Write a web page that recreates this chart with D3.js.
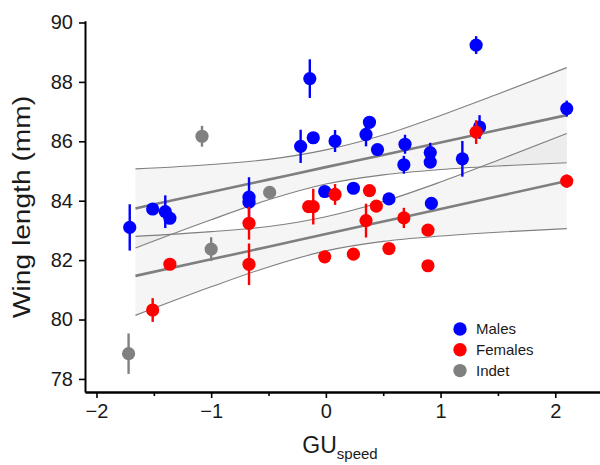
<!DOCTYPE html>
<html><head><meta charset="utf-8">
<script src="https://cdn.jsdelivr.net/npm/d3@7"></script>
<style>
body{margin:0;background:#fff}
svg{display:block}
text{font-family:"Liberation Sans",Arial,Helvetica,sans-serif;fill:#1a1a1a}
</style>
</head><body>
<svg id="chart" width="600" height="465"></svg>
<script>
// ---- data ----
const maleX   = [-1.71,-1.51,-1.40,-1.36,-0.67,-0.67,-0.22,-0.14,-0.11,-0.01,0.08,0.24,0.35,0.38,0.45,0.55,0.69,0.68,0.91,0.91,0.92,1.19,1.31,1.34,2.10];
const maleY   = [83.10,83.72,83.63,83.41,84.12,83.95,85.83,88.11,86.12,84.31,86.01,84.42,86.23,86.64,85.72,84.06,85.90,85.21,85.62,85.30,83.91,85.41,89.24,86.48,87.10];
const maleErr = [0.78,0,0.55,0,0.67,0,0.56,0.65,0,0,0.37,0,0.40,0,0,0,0.32,0.30,0.33,0,0,0.60,0.30,0.40,0.27];

const femaleX   = [-1.51,-1.36,-0.67,-0.67,-0.15,-0.11,0.08,0.35,0.38,0.44,0.68,0.89,-0.01,0.24,0.55,0.89,1.31,2.10];
const femaleY   = [80.32,81.86,83.24,81.86,83.80,83.80,84.21,83.33,84.34,83.82,83.42,83.01,82.11,82.20,82.39,81.81,86.31,84.66];
const femaleErr = [0.40,0,0.55,0.70,0,0.60,0.35,0.57,0,0,0.34,0,0,0,0.17,0,0.40,0.22];

const indetX   = [-1.08,-0.49,-1.00,-1.72];
const indetY   = [86.17,84.28,82.37,78.85];
const indetErr = [0.35,0,0.40,0.68];

const fitX      = [-1.66,-1.0,-0.5,0,0.5,1.0,1.5,2.1];
const maleFit   = [83.74,84.29,84.71,85.13,85.54,85.96,86.38,86.88];
const maleHi    = [85.07,85.22,85.39,85.71,86.21,86.87,87.59,88.48];
const maleLo    = [82.41,83.36,84.03,84.56,84.87,85.05,85.17,85.28];
const femaleFit = [81.47,82.03,82.45,82.88,83.30,83.72,84.15,84.66];
const femaleHi  = [82.80,82.96,83.13,83.46,83.97,84.63,85.36,86.26];
const femaleLo  = [80.14,81.10,81.77,82.31,82.63,82.81,82.94,83.06];

const xMajorTicks = [-2,-1,0,1,2];
const xMinorTicks = [-1.5,-0.5,0.5,1.5];
const yTicks = [78,80,82,84,86,88,90];
const legendLabels = ["Males","Females","Indet"];
const groupColors = ["#0000ff","#ff0000","#808080"];

// ---- drawing ----
const svg = d3.select("#chart");
const x = d3.scaleLinear().domain([-2.1,2.39]).range([85,600]);
const y = d3.scaleLinear().domain([77.56,90.06]).range([392,20.7]);

// confidence bands
function band(lo,hi){
  const rows = fitX.map((v,i)=>({x:v,lo:lo[i],hi:hi[i]}));
  const area = d3.area().x(d=>x(d.x)).y0(d=>y(d.lo)).y1(d=>y(d.hi)).curve(d3.curveMonotoneX);
  svg.append("path").datum(rows).attr("d",area).attr("fill","#999").attr("fill-opacity",0.1);
}
band(maleLo,maleHi);
band(femaleLo,femaleHi);
function line(vals,w){
  const rows = fitX.map((v,i)=>({x:v,y:vals[i]}));
  const ln = d3.line().x(d=>x(d.x)).y(d=>y(d.y)).curve(d3.curveMonotoneX);
  svg.append("path").datum(rows).attr("d",ln).attr("fill","none").attr("stroke","#7f7f7f").attr("stroke-width",w);
}
[maleHi,maleLo,femaleHi,femaleLo].forEach(v=>line(v,1.1));
[maleFit,femaleFit].forEach(v=>line(v,2.6));

// points
function points(xs,ys,es,color){
  const rows = xs.map((v,i)=>({x:v,y:ys[i],e:es[i]}));
  const g = svg.append("g");
  rows.forEach(d=>{
    if(d.e>0){
      g.append("line").attr("x1",x(d.x)).attr("x2",x(d.x))
        .attr("y1",y(d.y-d.e)).attr("y2",y(d.y+d.e))
        .attr("stroke",color).attr("stroke-width",2.4);
    }
    g.append("circle").attr("cx",x(d.x)).attr("cy",y(d.y)).attr("r",6.6).attr("fill",color);
  });
}
points(maleX,maleY,maleErr,groupColors[0]);
points(femaleX,femaleY,femaleErr,groupColors[1]);
points(indetX,indetY,indetErr,groupColors[2]);

// axes
const fmt = d3.format("d");
svg.append("g").attr("transform","translate(0,392)")
  .call(d3.axisBottom(x).tickValues(xMajorTicks).tickFormat(fmt).tickSize(6).tickSizeOuter(0).tickPadding(6));
svg.append("g").attr("transform","translate(0,392)")
  .call(d3.axisBottom(x).tickValues(xMinorTicks).tickSize(4).tickSizeOuter(0).tickFormat(""));
svg.append("g").attr("transform","translate(85,0)")
  .call(d3.axisLeft(y).tickValues(yTicks).tickFormat(fmt).tickSize(6).tickSizeOuter(0).tickPadding(6));
svg.selectAll(".domain").attr("stroke","#000").attr("stroke-width",2);
svg.selectAll(".tick line").attr("stroke","#000").attr("stroke-width",1.6);
svg.selectAll(".tick text").attr("font-size",20).attr("fill","#1a1a1a")
  .style("font-family",'"Liberation Sans",Arial,sans-serif');

// axis titles
svg.append("text").attr("transform","translate(30,207) rotate(-90)")
  .attr("text-anchor","middle").attr("font-size",23)
  .attr("textLength",222).attr("lengthAdjust","spacingAndGlyphs")
  .text("Wing length (mm)");
const xt = svg.append("text").attr("x",340).attr("y",453).attr("text-anchor","middle").attr("font-size",23);
xt.append("tspan").text("GU");
xt.append("tspan").attr("font-size",15).attr("dy",6).text("speed");

// legend
const lg = svg.append("g");
legendLabels.forEach((t,i)=>{
  lg.append("circle").attr("cx",460).attr("cy",329+i*20.8).attr("r",6.7).attr("fill",groupColors[i]);
  lg.append("text").attr("x",476).attr("y",329+i*20.8+5.3).attr("font-size",15).text(t);
});
</script>
</body></html>
